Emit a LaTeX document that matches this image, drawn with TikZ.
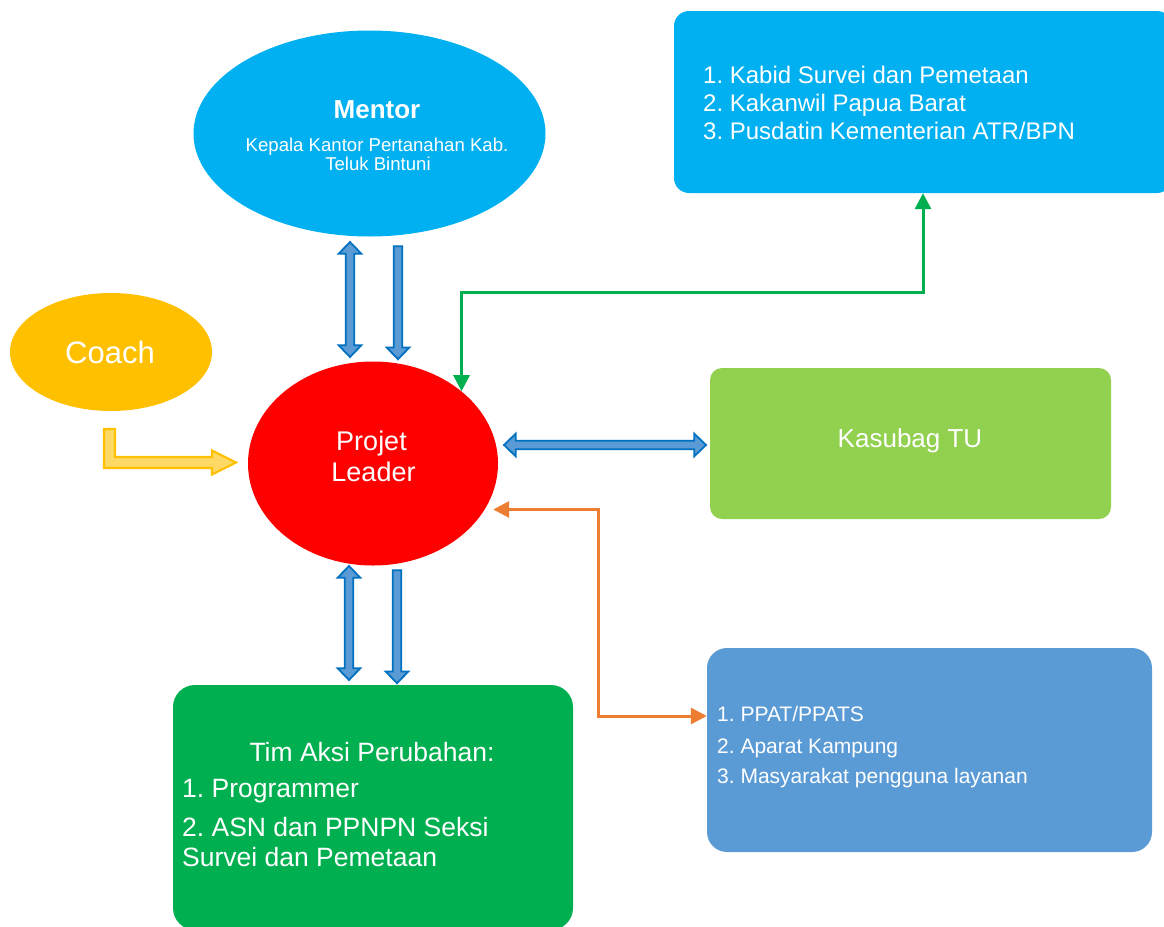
\documentclass[tikz,border=0pt]{standalone}
\usepackage{fontspec}
\setmainfont{Liberation Sans}
\usetikzlibrary{shapes.geometric,shapes.arrows,arrows.meta,calc}
\definecolor{cMentor}{HTML}{00B0F0}
\definecolor{cCoach}{HTML}{FFC000}
\definecolor{cLeader}{HTML}{FF0000}
\definecolor{cKasubag}{HTML}{92D050}
\definecolor{cPpat}{HTML}{5B9BD5}
\definecolor{cTim}{HTML}{00B050}
\definecolor{cArrFill}{HTML}{5B9BD5}
\definecolor{cArrLine}{HTML}{0070C0}
\definecolor{cCoachArrFill}{HTML}{FFD966}
\definecolor{cGreenLine}{HTML}{00B050}
\definecolor{cOrangeLine}{HTML}{ED7D31}
\newcommand\fsz[2]{\fontsize{#1}{#2}\selectfont}
\frenchspacing
\begin{document}
\frenchspacing
\begin{tikzpicture}[x=1pt,y=-1pt,
  oval/.style={ellipse, inner sep=0pt, draw=none},
  box/.style={rectangle, draw=none, inner sep=0pt},
  wtext/.style={text=white, inner sep=0pt},
  blockarrow/.style={single arrow, fill=cArrFill, draw=cArrLine, line width=1.8pt,
    inner xsep=0pt, inner ysep=3.4pt, minimum width=0pt,
    single arrow head extend=7pt, single arrow tip angle=88},
  blockdarrow/.style={double arrow, fill=cArrFill, draw=cArrLine, line width=1.8pt,
    inner xsep=0pt, inner ysep=3.4pt, minimum width=0pt,
    double arrow head extend=7pt, double arrow tip angle=88},
  gconn/.style={draw=cGreenLine, line width=3pt, {Triangle[width=16pt,length=16pt]}-{Triangle[width=16pt,length=16pt]}},
  oconn/.style={draw=cOrangeLine, line width=3pt, {Triangle[width=16pt,length=16pt]}-{Triangle[width=16pt,length=16pt]}}
]
\useasboundingbox (0,0) rectangle (1164,926);

% Mentor
\node[oval, fill=cMentor, minimum width=352pt, minimum height=206pt] (mentor) at (369.5,133.5) {};
\node[wtext, font=\bfseries\fsz{26}{30}, anchor=base] (mentorT) at (377,118.5) {Mentor};
\node[wtext, font=\fsz{18.6}{19.5}, anchor=base] (mentorS1) at (377,151) {Kepala Kantor Pertanahan Kab.};
\node[wtext, font=\fsz{18.6}{19.5}, anchor=base] (mentorS2) at (378,170.5) {Teluk Bintuni};

% Coach
\node[oval, fill=cCoach, minimum width=202pt, minimum height=118pt] (coach) at (111,352) {};
\node[wtext, font=\fsz{31}{34}, anchor=base] (coachT) at (110,363) {Coach};

% Projet Leader
\node[oval, fill=cLeader, minimum width=250pt, minimum height=204pt] (leader) at (373,463.5) {};
\node[wtext, font=\fsz{27}{31}, anchor=base] (leaderT1) at (371.5,450.7) {Projet};
\node[wtext, font=\fsz{27}{31}, anchor=base] (leaderT2) at (373.5,481.7) {Leader};

% Top right box
\node[box, fill=cMentor, rounded corners=15pt, minimum width=498pt, minimum height=182pt] (pusdatin) at (923,102) {};
\node[wtext, font=\fsz{24}{28}, anchor=base west] (p1) at (703,83.6) {1. Kabid Survei dan Pemetaan};
\node[wtext, font=\fsz{24}{28}, anchor=base west] (p2) at (703,111.6) {2. Kakanwil Papua Barat};
\node[wtext, font=\fsz{24}{28}, anchor=base west] (p3) at (703,139.6) {3. Pusdatin Kementerian ATR/BPN};

% Kasubag TU
\node[box, fill=cKasubag, rounded corners=12pt, minimum width=401pt, minimum height=151pt] (kasubag) at (910.5,443.5) {};
\node[wtext, font=\fsz{26}{30}, anchor=base] (kasubagT) at (910,447.5) {Kasubag TU};

% PPAT box
\node[box, fill=cPpat, rounded corners=20pt, minimum width=445pt, minimum height=204pt] (ppat) at (929.5,750) {};
\node[wtext, font=\fsz{21}{25}, anchor=base west] (q1) at (717,721.5) {1. PPAT/PPATS};
\node[wtext, font=\fsz{21}{25}, anchor=base west] (q2) at (717,753.5) {2. Aparat Kampung};
\node[wtext, font=\fsz{21}{25}, anchor=base west] (q3) at (717,783.5) {3. Masyarakat pengguna layanan};

% Tim Aksi box
\node[box, fill=cTim, rounded corners=22pt, minimum width=400pt, minimum height=245pt] (tim) at (373,807.5) {};
\node[wtext, font=\fsz{26.5}{30}, anchor=base] (t0) at (372,761.5) {Tim Aksi Perubahan:};
\node[wtext, font=\fsz{26.5}{30}, anchor=base west] (t1) at (182,797.5) {1. Programmer};
\node[wtext, font=\fsz{26.5}{30}, anchor=base west] (t2) at (182,836.5) {2. ASN dan PPNPN Seksi};
\node[wtext, font=\fsz{26.5}{30}, anchor=base west] (t3) at (182,866.5) {Survei dan Pemetaan};

% Block arrows
\node[blockdarrow, rotate=90, minimum height=115pt] (a1) at (350,299.5) {};
\node[blockarrow, rotate=-90, minimum height=113pt] (a2) at (398,300.5) {};
\node[blockdarrow, rotate=90, minimum height=114pt] (a3) at (349,623) {};
\node[blockarrow, rotate=-90, minimum height=113pt] (a4) at (397,624.5) {};
\node[blockdarrow, minimum height=202pt] (a5) at (605,445) {};

% Coach bent arrow
\draw[fill=cCoachArrFill, draw=cCoach, line width=2.2pt, line join=miter]
  (104,429) -- (115,429) -- (115,457) -- (212,457) -- (212,450.5)
  -- (236,462.5) -- (212,474.5) -- (212,468) -- (104,468) -- cycle;

% Elbow connectors
\draw[gconn, line join=miter] (leader.north east) |- (pusdatin.south |- 0,292) -- (pusdatin.south);
\draw[oconn, line join=miter] ($(leader.east)+(-5,46)$) -- ++(105,0) |- (ppat.west |- 0,716);
\end{tikzpicture}
\end{document}
